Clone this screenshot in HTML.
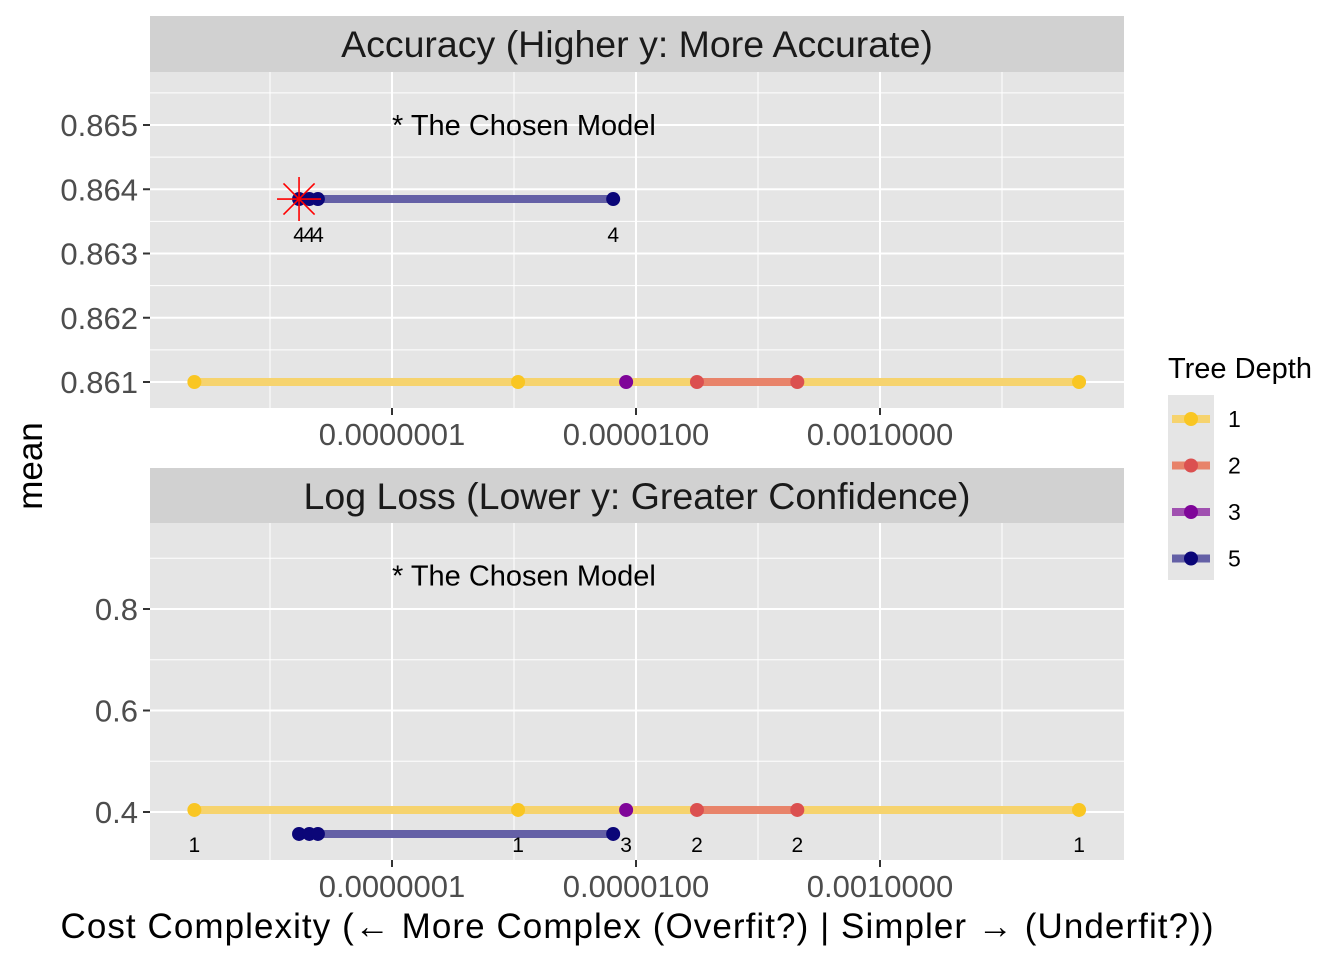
<!DOCTYPE html>
<html><head><meta charset="utf-8"><style>
body{margin:0;background:#fff}
svg{display:block;font-family:"Liberation Sans",Arial,sans-serif}
</style></head><body>
<svg id="chart" width="1344" height="960" xmlns="http://www.w3.org/2000/svg">
<defs>
<clipPath id="c1"><rect x="150" y="72" width="974" height="336"/></clipPath>
<clipPath id="c2"><rect x="150" y="523" width="974" height="337"/></clipPath>
</defs>
<g id="root"></g>
</svg>
<script>
const depths=[1,1,3,2,2,1];
const costs=[2.4e-9,1.08e-6,8.3e-6,3.16e-5,2.1e-4,0.0428];
const accMain=[0.861,0.861,0.861,0.861,0.861,0.861];
const llMain=[0.404,0.404,0.404,0.404,0.404,0.404];
const d5Costs=[1.73e-8,2.1e-8,2.47e-8,6.5e-6];
const d5Acc=[0.863848,0.863848,0.863848,0.863848];
const d5LL=[0.3567,0.3567,0.3567,0.3567];
const accTicks=[0.861,0.862,0.863,0.864,0.865];
const llTicks=[0.4,0.6,0.8];
const xTicks=[1e-7,1e-5,1e-3];
const xTickLabels=["0.0000001","0.0000100","0.0010000"];
const colors={1:"#F9C623",2:"#DB5050",3:"#7F0599",5:"#0B0678"};
const lineCol={1:"#F6D36E",2:"#E8836A",3:"#A050B0",5:"#6460A6"};

const NS="http://www.w3.org/2000/svg";
const root=document.getElementById('root');
function el(tag,attrs,parent,text){const e=document.createElementNS(NS,tag);for(const k in attrs)e.setAttribute(k,attrs[k]);if(text!==undefined)e.textContent=text;(parent||root).appendChild(e);return e;}
const X0=150,X1=1124;
function xs(v){return 392+(Math.log10(v)+7)*122;}

function panel(p){
  const g=el('g',{});
  
  
  const s=el('rect',{x:X0,y:p.sy,width:X1-X0,height:p.top-p.sy,fill:'#D1D1D1'},g);
  
  
  const st=el('text',{x:637,y:p.sy+41,'text-anchor':'middle','font-size':37.5,fill:'#1A1A1A'},g,p.title);
  
  
  el('rect',{x:X0,y:p.top,width:X1-X0,height:p.bot-p.top,fill:'#E5E5E5'},g);
  const ys=v=>p.y0+(v-p.v0)*p.k;
  for(let i=0;i<p.ticks.length+1;i++){
    const a=i===0?p.ticks[0]-p.step/2:p.ticks[i-1]+p.step/2;
    const y=ys(a); if(y>p.top&&y<p.bot) el('line',{x1:X0,x2:X1,y1:y,y2:y,stroke:'#fff','stroke-width':1},g);
  }
  [1e-8,1e-6,1e-4,1e-2].forEach(v=>el('line',{x1:xs(v),x2:xs(v),y1:p.top,y2:p.bot,stroke:'#fff','stroke-width':1},g));
  p.ticks.forEach(v=>{const y=ys(v);
    el('line',{x1:X0,x2:X1,y1:y,y2:y,stroke:'#fff','stroke-width':2},g);
    el('line',{x1:143,x2:150,y1:y,y2:y,stroke:'#333','stroke-width':2},g);
    const t=el('text',{x:138,y:y+11,'text-anchor':'end','font-size':31,fill:'#4D4D4D'},g,p.fmt(v));
    
    
  });
  xTicks.forEach((v,i)=>{const x=xs(v);
    el('line',{x1:x,x2:x,y1:p.top,y2:p.bot,stroke:'#fff','stroke-width':2},g);
    el('line',{x1:x,x2:x,y1:p.bot,y2:p.bot+7,stroke:'#333','stroke-width':2},g);
    const t=el('text',{x:x,y:p.bot+37,'text-anchor':'middle','font-size':31,fill:'#4D4D4D'},g,xTickLabels[i]);
    
    
  });
  const cg=el('g',{'clip-path':'url(#'+p.clip+')'},g);
  const ct=el('text',{x:392,y:ys(p.noteV)+10,'font-size':29,fill:'#000'},cg,'* The Chosen Model');
  
  
  const main=p.main;
  const mx=costs.map(xs),my=main.map(ys);
  el('line',{x1:Math.min(...mx),x2:Math.max(...mx),y1:my[0],y2:my[0],stroke:lineCol[1],'stroke-width':8},cg);
  const d2=costs.map((c,i)=>depths[i]===2?i:-1).filter(i=>i>=0);
  el('line',{x1:mx[d2[0]],x2:mx[d2[d2.length-1]],y1:my[d2[0]],y2:my[d2[0]],stroke:lineCol[2],'stroke-width':8},cg);
  const fx=d5Costs.map(xs),fy=p.d5.map(ys);
  el('line',{x1:fx[0],x2:fx[fx.length-1],y1:fy[0],y2:fy[fy.length-1],stroke:lineCol[5],'stroke-width':8},cg);
  costs.forEach((c,i)=>{
    const pt=el('circle',{cx:mx[i],cy:my[i],r:7,fill:colors[depths[i]]},cg);
    
    
    el('text',{x:mx[i],y:my[i]+42,'text-anchor':'middle','font-size':21,fill:'#000'},cg,String(depths[i]));
  });
  d5Costs.forEach((c,i)=>{
    const pt=el('circle',{cx:fx[i],cy:fy[i],r:7,fill:colors[5]},cg);
    
    
    el('text',{x:fx[i],y:fy[i]+43,'text-anchor':'middle','font-size':21,fill:'#000'},cg,'4');
  });
  if(p.star){const x=fx[0],y=fy[0],r=22,sg=el('g',{stroke:'#FF0000','stroke-width':1.6},cg);
    
    
    [0,45,90,135].forEach(a=>{const dx=r*Math.cos(a*Math.PI/180),dy=r*Math.sin(a*Math.PI/180);
      el('line',{x1:x-dx,y1:y-dy,x2:x+dx,y2:y+dy},sg);});}
}
panel({name:'accuracy-panel',sy:16,top:72,bot:408,title:'Accuracy (Higher y: More Accurate)',ticks:accTicks,step:0.001,y0:382,v0:0.861,k:-64250,fmt:v=>v.toFixed(3),main:accMain,d5:d5Acc,noteV:0.865,clip:'c1',star:true});
panel({name:'logloss-panel',sy:468,top:523,bot:860,title:'Log Loss (Lower y: Greater Confidence)',ticks:llTicks,step:0.2,y0:812,v0:0.4,k:-507.5,fmt:v=>v.toFixed(1),main:llMain,d5:d5LL,noteV:0.8664,clip:'c2',star:false});

let t=el('text',{x:637,y:938,'text-anchor':'middle','font-size':35,fill:'#000',textLength:1153,lengthAdjust:'spacing'},root,'Cost Complexity (← More Complex (Overfit?) | Simpler → (Underfit?))');


t=el('text',{x:0,y:0,'text-anchor':'middle','font-size':35,fill:'#000',transform:'translate(42,466) rotate(-90)'},root,'mean');


const lg=el('g',{});


el('text',{x:1168,y:378,'font-size':29,fill:'#000'},lg,'Tree Depth');
el('rect',{x:1168,y:395,width:46,height:185,fill:'#E5E5E5'},lg);
[1,2,3,5].forEach((d,i)=>{const y=419+i*46.5;
  const e=el('g',{},lg);
  
  
  el('line',{x1:1172,x2:1210,y1:y,y2:y,stroke:lineCol[d],'stroke-width':8},e);
  el('circle',{cx:1191,cy:y,r:7,fill:colors[d]},e);
  el('text',{x:1228,y:y+8,'font-size':23,fill:'#000'},e,String(d));
});
</script>
</body></html>
